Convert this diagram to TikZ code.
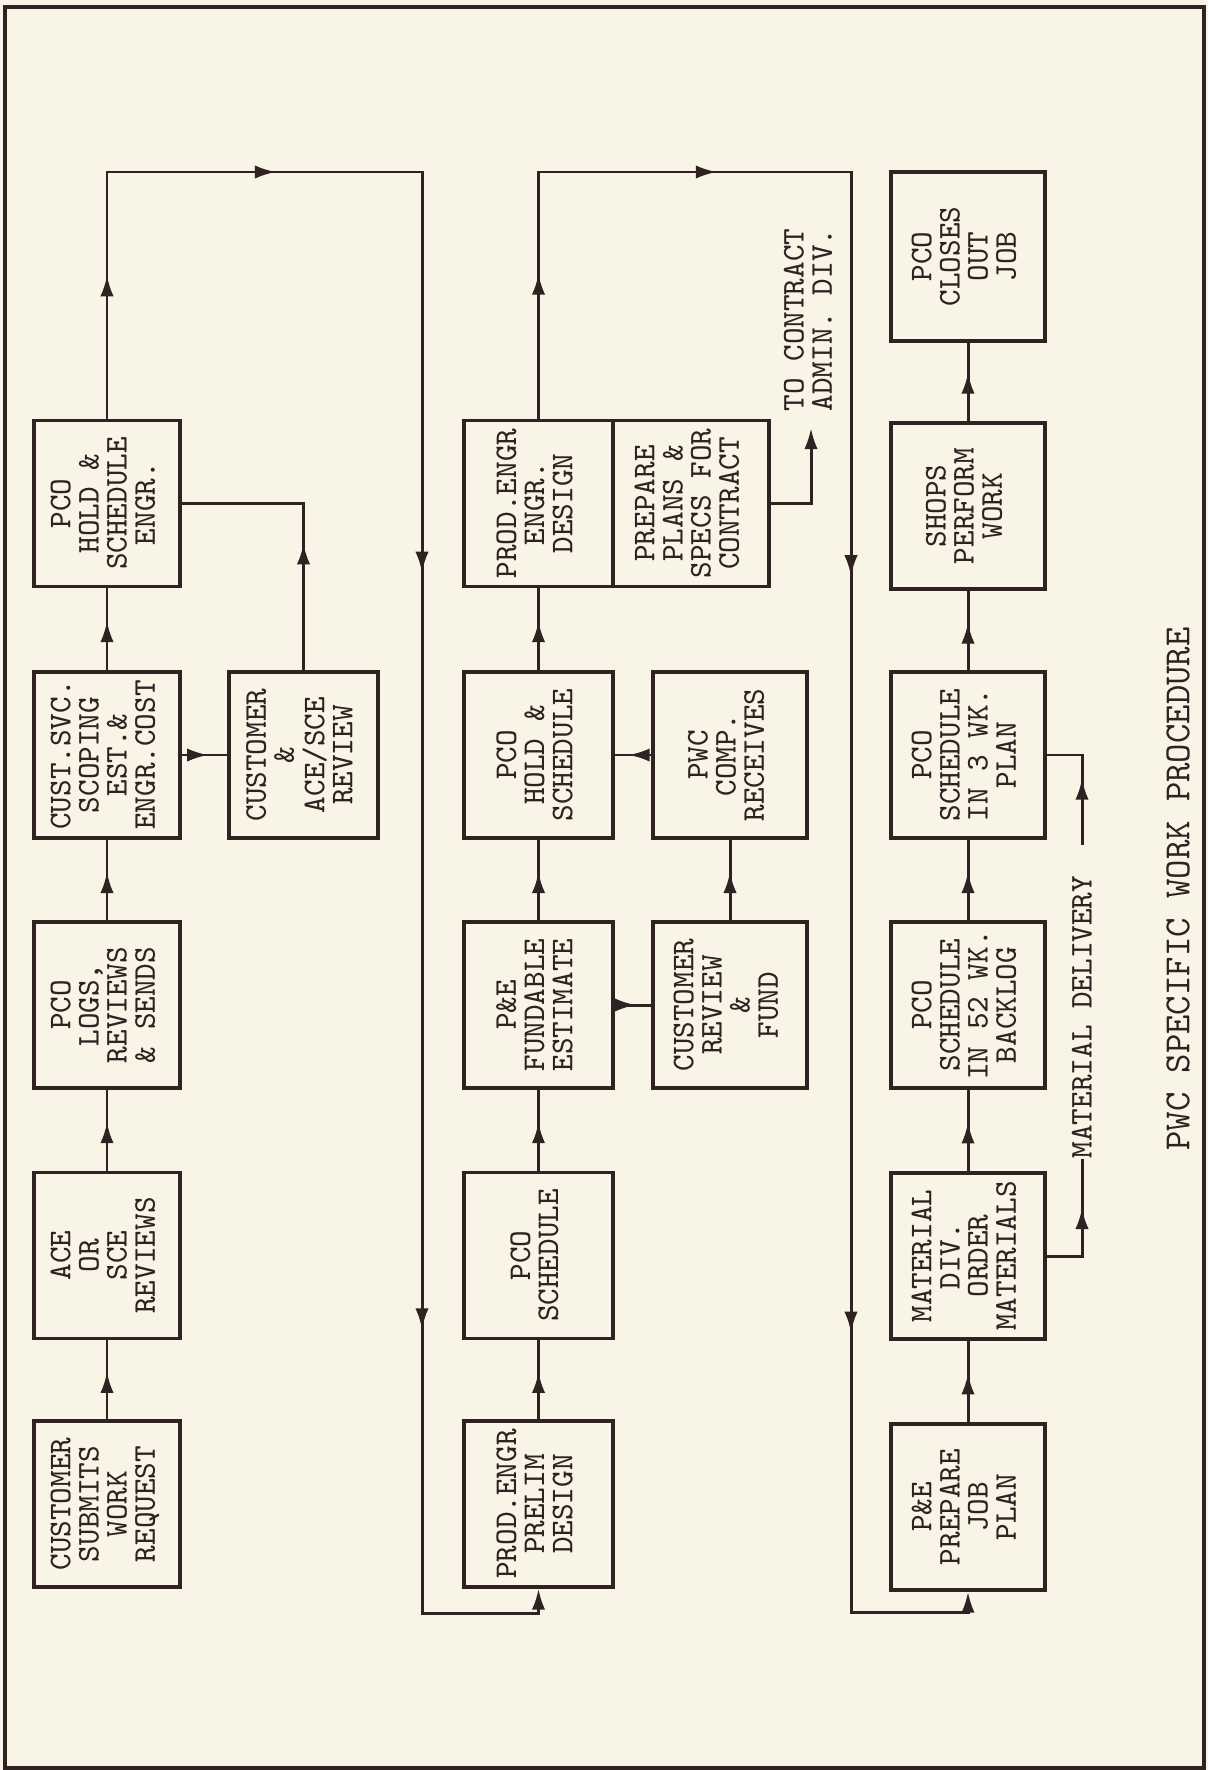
\documentclass[tikz,border=0pt]{standalone}
\usepackage{graphicx}
\usetikzlibrary{arrows.meta,decorations.markings}
\definecolor{bgc}{RGB}{248,245,231}
\definecolor{ink}{RGB}{48,34,34}
\newcommand\rottext[1]{\rotatebox{90}{\begin{tabular}{@{}c@{}}#1\end{tabular}}}
\tikzset{
  tipA/.tip={Latex[length=6pt,width=3.8pt]},
  box/.style={draw=ink, line width=0.9pt, fill=bgc, minimum width=1.48cm, minimum height=1.66cm,
    inner sep=0pt, text=ink, font=\fontsize{9}{8}\selectfont\ttfamily},
  conn/.style={draw=ink, line width=0.85pt},
  arrat/.style={postaction={decorate,decoration={markings,mark=at position #1 with {\arrow{tipA}}}}},
  lbl/.style={inner sep=0pt, text=ink, font=\fontsize{9}{8}\selectfont\ttfamily},
}
\begin{document}
\begin{tikzpicture}[x=0.01cm,y=-0.01cm]
\fill[bgc] (0,0) rectangle (1208,1770);
\useasboundingbox (0,0) rectangle (1208,1770);
\draw[ink, line width=0.9pt] (5,7) rectangle (1204,1768);

% column 1
\node[box, minimum width=1.46cm] (A1) at (107,503.5) {\rottext{PCO\\HOLD \&\\SCHEDULE\\ENGR.}};
\node[box, minimum width=1.46cm] (B1) at (107,755) {\rottext{CUST.SVC.\\SCOPING\\EST.\&\\ENGR.COST}};
\node[box, minimum width=1.46cm] (C1) at (107,1005) {\rottext{PCO\\LOGS,\\REVIEWS\\\& SENDS}};
\node[box, minimum width=1.46cm] (D1) at (107,1255.5) {\rottext{ACE\\OR\\SCE\\REVIEWS}};
\node[box, minimum width=1.46cm] (E1) at (107,1504) {\rottext{CUSTOMER\\SUBMITS\\WORK\\REQUEST}};
\node[box, minimum width=1.49cm] (S1) at (303.5,755) {\rottext{CUSTOMER\\\&\\ACE/SCE\\REVIEW}};

% column 2
\node[box, minimum width=1.49cm] (A2) at (538.5,503.5) {\rottext{PROD.ENGR\\ENGR.\\DESIGN}};
\node[box, minimum width=1.56cm] (PP) at (691,503.5) {\rottext{PREPARE\\PLANS \&\\SPECS FOR\\CONTRACT}};
\node[box, minimum width=1.49cm] (B2) at (538.5,755) {\rottext{PCO\\HOLD \&\\SCHEDULE}};
\node[box, minimum width=1.49cm] (C2) at (538.5,1005) {\rottext{P\&E\\FUNDABLE\\ESTIMATE}};
\node[box, minimum width=1.49cm] (D2) at (538.5,1255.5) {\rottext{PCO\\SCHEDULE}};
\node[box, minimum width=1.49cm] (E2) at (538.5,1504) {\rottext{PROD.ENGR\\PRELIM\\DESIGN}};
\node[box, minimum width=1.54cm] (P2) at (730,755) {\rottext{PWC\\COMP.\\RECEIVES}};
\node[box, minimum width=1.54cm] (F2) at (730,1005) {\rottext{CUSTOMER\\REVIEW\\\&\\FUND}};

% column 3
\node[box, minimum width=1.54cm, minimum height=1.69cm] (CL) at (968,256.5) {\rottext{PCO\\CLOSES\\OUT\\JOB}};
\node[box, minimum width=1.54cm] (A3) at (968,506) {\rottext{SHOPS\\PERFORM\\WORK}};
\node[box, minimum width=1.54cm] (B3) at (968,755) {\rottext{PCO\\SCHEDULE\\IN 3 WK.\\PLAN}};
\node[box, minimum width=1.54cm] (C3) at (968,1005) {\rottext{PCO\\SCHEDULE\\IN 52 WK.\\BACKLOG}};
\node[box, minimum width=1.54cm] (D3) at (968,1256) {\rottext{MATERIAL\\DIV.\\ORDER\\MATERIALS}};
\node[box, minimum width=1.54cm] (E3) at (968,1507) {\rottext{P\&E\\PREPARE\\JOB\\PLAN}};

% labels
\node[lbl] (tc) at (812,320) {\rotatebox{90}{\begin{tabular}{@{}l@{}}TO CONTRACT\\ADMIN. DIV.\end{tabular}}};
\node[lbl] (md) at (1082,1017) {\rotatebox{90}{MATERIAL DELIVERY}};
\node[lbl, font=\fontsize{10.5}{12}\selectfont\ttfamily] (title) at (1178,889) {\rotatebox{90}{PWC SPECIFIC WORK PROCEDURE}};

% column 1 connectors
\draw[conn, arrat=0.6] (E1.north) -- (D1.south);
\draw[conn, arrat=0.6] (D1.north) -- (C1.south);
\draw[conn, arrat=0.6] (C1.north) -- (B1.south);
\draw[conn, arrat=0.6] (B1.north) -- (A1.south);
\draw[conn, arrat=0.58] (B1.east) -- (S1.west);
\draw[conn, arrat=0.44] (S1.north) |- (A1.east);

% loop 1
\coordinate (l1a) at (107,172);
\coordinate (l1b) at (422,172);
\coordinate (l1c) at (422,1613);
\coordinate (l1d) at (538.5,1613);
\draw[conn, line join=miter, arrat=0.067, arrat=0.194, arrat=0.449, arrat=0.802, -{tipA}]
  (A1.north) -- (l1a) -- (l1b) -- (l1c) -- (l1d) -- (E2.south);

% column 2 connectors
\draw[conn, arrat=0.6] (E2.north) -- (D2.south);
\draw[conn, arrat=0.6] (D2.north) -- (C2.south);
\draw[conn, arrat=0.6] (C2.north) -- (B2.south);
\draw[conn, arrat=0.6] (B2.north) -- (A2.south);
\draw[conn, arrat=0.58] (C2.east) -- (F2.west);
\draw[conn, arrat=0.6] (F2.north) -- (P2.south);
\draw[conn, arrat=0.62] (P2.west) -- (B2.east);
\coordinate (tocon) at (811,428);
\draw[conn, -{tipA}] (PP.east) -| (tocon);

% loop 2
\coordinate (l2a) at (538.5,172);
\coordinate (l2b) at (851,172);
\coordinate (l2c) at (851,1612);
\coordinate (l2d) at (968,1612);
\draw[conn, line join=miter, arrat=0.068, arrat=0.199, arrat=0.451, arrat=0.805, -{tipA}]
  (A2.north) -- (l2a) -- (l2b) -- (l2c) -- (l2d) -- (E3.south);

% column 3 connectors
\draw[conn, arrat=0.6] (E3.north) -- (D3.south);
\draw[conn, arrat=0.6] (D3.north) -- (C3.south);
\draw[conn, arrat=0.6] (C3.north) -- (B3.south);
\draw[conn, arrat=0.6] (B3.north) -- (A3.south);
\draw[conn, arrat=0.62] (A3.north) -- (CL.south);

% material delivery
\draw[conn, arrat=0.63] (D3.east) -| (md.south);
\coordinate (mdt) at (1082,845);
\draw[conn, arrat=0.53] (mdt) |- (B3.east);
\end{tikzpicture}
\end{document}
